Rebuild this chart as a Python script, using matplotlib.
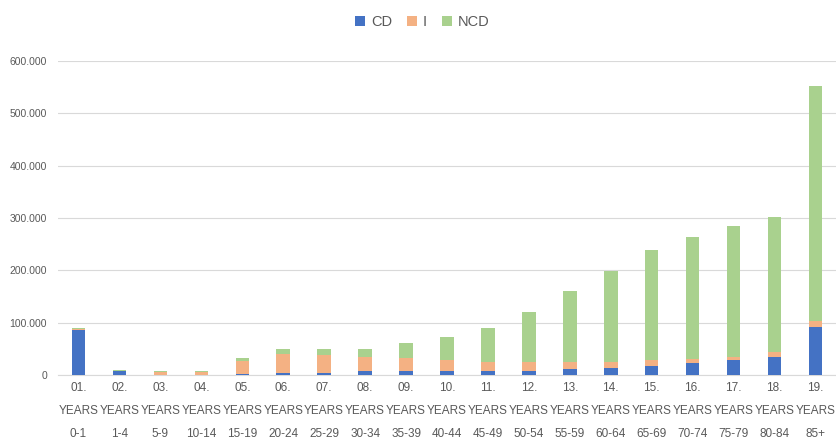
import matplotlib
matplotlib.use("Agg")
import matplotlib.pyplot as plt
from matplotlib.ticker import FuncFormatter
import numpy as np

# age groups (x axis)
groups = ["01.\nYEARS\n0-1", "02.\nYEARS\n1-4", "03.\nYEARS\n5-9", "04.\nYEARS\n10-14",
          "05.\nYEARS\n15-19", "06.\nYEARS\n20-24", "07.\nYEARS\n25-29", "08.\nYEARS\n30-34",
          "09.\nYEARS\n35-39", "10.\nYEARS\n40-44", "11.\nYEARS\n45-49", "12.\nYEARS\n50-54",
          "13.\nYEARS\n55-59", "14.\nYEARS\n60-64", "15.\nYEARS\n65-69", "16.\nYEARS\n70-74",
          "17.\nYEARS\n75-79", "18.\nYEARS\n80-84", "19.\nYEARS\n85+"]

# values
cd = [86000, 7000, 500, 500, 1000, 4000, 4000, 7000, 7000, 7000,
      8000, 8000, 12000, 14000, 17000, 23000, 28000, 34000, 92000]
inj = [1000, 1000, 5000, 5000, 25000, 37000, 34000, 28000, 26000, 22000,
       17000, 17000, 13000, 11000, 11000, 8000, 6000, 9000, 11000]
ncd = [3000, 2000, 2000, 2000, 7000, 9000, 12000, 15000, 28000, 43000,
       64000, 95000, 136000, 174000, 210000, 233000, 250000, 258000, 450000]

plt.rcParams['font.family'] = ['Liberation Sans', 'DejaVu Sans']

fig = plt.figure(figsize=(8.36, 4.45), dpi=100)
ax = fig.add_axes([58/836, 1-375/445, 778/836, (375-61)/445])

x = np.arange(len(groups))
w = 0.33
cd_a = np.array(cd)
inj_a = np.array(inj)
ncd_a = np.array(ncd)
ax.bar(x, cd_a, w, color="#4472C4", label="CD", zorder=3)
ax.bar(x, inj_a, w, bottom=cd_a, color="#F4B183", label="I", zorder=3)
ax.bar(x, ncd_a, w, bottom=cd_a+inj_a, color="#A9D18E", label="NCD", zorder=3)

ax.set_xlim(-0.5, len(groups)-0.5)
ax.set_ylim(0, 600000)
ax.set_yticks(np.arange(0, 600001, 100000))
ax.yaxis.set_major_formatter(FuncFormatter(lambda v, p: "0" if v == 0 else "{:,.0f}".format(v).replace(",", ".")))
ax.grid(axis="y", color="#D9D9D9", linewidth=0.8, zorder=0)
for s in ["top", "right", "left"]:
    ax.spines[s].set_visible(False)
ax.spines["bottom"].set_color("#D9D9D9")
ax.tick_params(axis="y", length=0, labelsize=7.5, labelcolor="#595959", pad=8)
ax.tick_params(axis="x", length=0, labelsize=8.5, labelcolor="#595959", pad=5)
ax.set_xticks(x)
ax.set_xticklabels(groups, linespacing=2.2)

leg = fig.legend(loc="upper center", bbox_to_anchor=(0.505, 0.995), ncol=3, frameon=False,
                 fontsize=10.5, handlelength=0.7, handleheight=0.7, handletextpad=0.4, columnspacing=1.0)
for t in leg.get_texts():
    t.set_color("#595959")

fig.savefig("out.png", dpi=100)
